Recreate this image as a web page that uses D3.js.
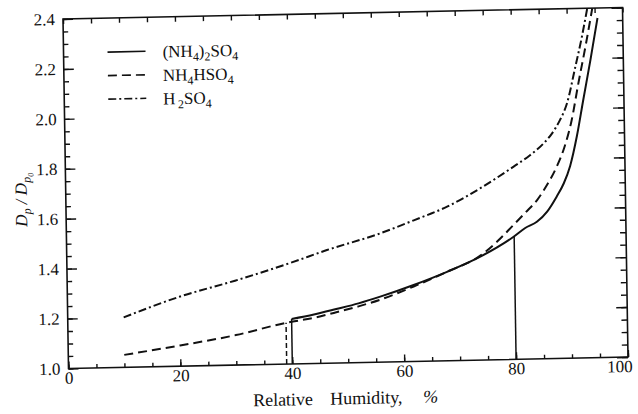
<!DOCTYPE html>
<html>
<head>
<meta charset="utf-8">
<script src="https://cdn.jsdelivr.net/npm/d3@7"></script>
<style>
  body { margin: 0; background: #fff; }
  svg, svg text { font-family: "Liberation Serif", "Times New Roman", Times, "DejaVu Serif", "Noto Serif", serif; }
</style>
</head>
<body>
<script>
// (NH4)2SO4 : upper (wet) branch
var rhAmSulf = [40, 44, 48, 52, 55.9, 61.9, 67.9, 73.9, 79.9, 82, 84.1, 86, 87.7, 89, 90.2, 91.5, 92.7, 94.1, 95.5];
var dpAmSulf = [1.18, 1.196, 1.216, 1.237, 1.262, 1.306, 1.356, 1.414, 1.491, 1.525, 1.549, 1.59, 1.648, 1.70, 1.77, 1.89, 2.03, 2.19, 2.36];

// NH4HSO4
var rhAmBisulf = [10, 20, 30, 39, 44, 48, 52, 55.9, 61.9, 67.9, 73.9, 76.9, 79.9, 82, 84.2, 86, 87.8, 89.3, 90.6, 91.9, 93.3, 94.6];
var dpAmBisulf = [1.05, 1.083, 1.12, 1.165, 1.183, 1.203, 1.225, 1.25, 1.30, 1.356, 1.418, 1.472, 1.538, 1.585, 1.636, 1.695, 1.768, 1.85, 1.953, 2.10, 2.25, 2.40];

// H2SO4
var rhSulfAcid = [10, 20, 30, 40, 46.5, 56, 62.1, 68.1, 74.1, 80.1, 83, 85.5, 87, 88.5, 89.8, 91.4, 92.6, 93.7];
var dpSulfAcid = [1.20, 1.278, 1.338, 1.405, 1.453, 1.515, 1.565, 1.617, 1.688, 1.772, 1.815, 1.862, 1.90, 1.954, 2.02, 2.166, 2.28, 2.40];

// vertical jumps (deliquescence / efflorescence)
var jumpRhSolid = [40, 80];
var jumpTopSolid = [1.18, 1.491];
var jumpRhDashed = [39];
var jumpTopDashed = [1.165];

// axis ticks
var xTicks = [0, 20, 40, 60, 80, 100];
var yTicks = [1.0, 1.2, 1.4, 1.6, 1.8, 2.0, 2.2, 2.4];

var width = 638, height = 414;
var plotW = 559.5, plotH = 349.5;
var ink = "#111";
var serif = "'Liberation Serif', 'Times New Roman', Times, 'DejaVu Serif', 'Noto Serif', serif";

var svg = d3.select("body").append("svg")
  .attr("width", width)
  .attr("height", height);

// the scanned figure is slightly skewed, so the whole frame gets a small affine tilt
var g = svg.append("g")
  .attr("transform", "matrix(1,-0.02055,0.01574,1,63,19)");

var x = d3.scaleLinear().domain([0, 100]).range([0, plotW]);
var y = d3.scaleLinear().domain([1.0, 2.4]).range([plotH, 0]);

var xMinor = d3.range(0, 101, 5);
var yMinor = d3.range(0, 29).map(function(i) { return +(1 + i * 0.05).toFixed(2); });

function styleAxis(sel) {
  sel.attr("font-family", serif);
  sel.select(".domain").remove();
  sel.selectAll("line").attr("stroke", ink).attr("stroke-width", 1.4);
  sel.selectAll("text").attr("fill", ink).style("font-size", "17px")
    .style("font-family", serif);
}

// bottom axis
g.append("g").attr("transform", "translate(0," + plotH + ")")
  .call(d3.axisBottom(x).tickValues(xMinor).tickSize(-4).tickFormat(""))
  .call(styleAxis);
var xAxisG = g.append("g").attr("transform", "translate(0," + plotH + ")")
  .call(d3.axisBottom(x).tickValues(xTicks).tickSize(-7).tickPadding(3).tickFormat(d3.format("d")))
  .call(styleAxis);

// last label sits at the picture edge; keep it inside
xAxisG.selectAll(".tick text")
  .filter(function(d) { return d === 100; })
  .attr("text-anchor", "end")
  .attr("x", 4);

// top axis
g.append("g")
  .call(d3.axisTop(x).tickValues(xMinor).tickSize(-5).tickFormat(""))
  .call(styleAxis);

// left axis
g.append("g")
  .call(d3.axisLeft(y).tickValues(yMinor).tickSize(-5).tickFormat(""))
  .call(styleAxis);
g.append("g")
  .call(d3.axisLeft(y).tickValues(yTicks).tickSize(-10).tickPadding(8).tickFormat(d3.format(".1f")))
  .call(styleAxis);

// right axis
g.append("g").attr("transform", "translate(" + plotW + ",0)")
  .call(d3.axisRight(y).tickValues(yMinor).tickSize(-6).tickFormat(""))
  .call(styleAxis);
g.append("g").attr("transform", "translate(" + plotW + ",0)")
  .call(d3.axisRight(y).tickValues(yTicks).tickSize(-11).tickFormat(""))
  .call(styleAxis);

// frame
g.append("rect")
  .attr("width", plotW).attr("height", plotH)
  .attr("fill", "none").attr("stroke", ink).attr("stroke-width", 1.6);

// curves
g.append("clipPath").attr("id", "clip")
  .append("rect").attr("width", plotW).attr("height", plotH);

var line = d3.line()
  .x(function(d) { return x(d[0]); })
  .y(function(d) { return y(d[1]); })
  .curve(d3.curveMonotoneX);

var series = [
  { rh: rhAmSulf, dp: dpAmSulf, dash: null },
  { rh: rhAmBisulf, dp: dpAmBisulf, dash: "9,5" },
  { rh: rhSulfAcid, dp: dpSulfAcid, dash: "8,3,2,3" }
];

var curves = g.append("g").attr("clip-path", "url(#clip)");

series.forEach(function(s) {
  curves.append("path")
    .datum(d3.zip(s.rh, s.dp))
    .attr("d", line)
    .attr("fill", "none")
    .attr("stroke", ink)
    .attr("stroke-width", 2)
    .attr("stroke-dasharray", s.dash);
});

// vertical jumps
jumpRhSolid.forEach(function(rh, i) {
  curves.append("line")
    .attr("x1", x(rh)).attr("x2", x(rh))
    .attr("y1", y(1.0)).attr("y2", y(jumpTopSolid[i]))
    .attr("stroke", ink).attr("stroke-width", 1.5);
});
jumpRhDashed.forEach(function(rh, i) {
  curves.append("line")
    .attr("x1", x(rh)).attr("x2", x(rh))
    .attr("y1", y(1.0)).attr("y2", y(jumpTopDashed[i]))
    .attr("stroke", ink).attr("stroke-width", 1.5)
    .attr("stroke-dasharray", "5,3");
});

// legend
var legendItems = [
  { parts: [["(NH", 0], ["4", 1], [")", 0], ["2", 1], ["SO", 0], ["4", 1]], dash: null },
  { parts: [["NH", 0], ["4", 1], ["HSO", 0], ["4", 1]], dash: "9,5" },
  { parts: [["H", 0], ["\u20092", 1], ["SO", 0], ["4", 1]], dash: "8,3,2,3" }
];

var legend = g.append("g").attr("transform", "translate(44,34)");

legendItems.forEach(function(item, i) {
  var row = legend.append("g").attr("transform", "translate(0," + (i * 23.5) + ")");
  row.append("line")
    .attr("x1", 0).attr("x2", 38)
    .attr("stroke", ink).attr("stroke-width", 1.6)
    .attr("stroke-dasharray", item.dash);
  var t = row.append("text")
    .attr("x", 55).attr("y", 6.5)
    .attr("fill", ink)
    .style("font-family", serif)
    .style("font-size", "17px");
  item.parts.forEach(function(p, k) {
    var sp = t.append("tspan").text(p[0]);
    if (p[1]) sp.style("font-size", "12px").attr("dy", 4);
    else if (k > 0 && item.parts[k - 1][1]) sp.attr("dy", -4);
  });
});

// axis titles
var xTitle = [["Relative", 184], ["Humidity,", 261], ["%", 354]];
xTitle.forEach(function(w) {
  g.append("text")
    .attr("x", w[1]).attr("y", 391)
    .attr("fill", ink)
    .style("font-family", serif)
    .style("font-size", "18px")
    .style("font-style", w[0] === "%" ? "italic" : "normal")
    .text(w[0]);
});

var yTitle = g.append("text")
  .attr("transform", "translate(-39,180) rotate(-90)")
  .attr("text-anchor", "middle")
  .attr("fill", ink)
  .style("font-family", serif)
  .style("font-size", "17px")
  .style("font-style", "italic");
yTitle.append("tspan").text("D");
yTitle.append("tspan").text("p").style("font-size", "12px").attr("dy", 4);
yTitle.append("tspan").text(" / D").attr("dy", -4);
yTitle.append("tspan").text("p").style("font-size", "12px").attr("dy", 4);
yTitle.append("tspan").text("0").style("font-size", "8px").attr("dy", 3);
</script>
</body>
</html>
